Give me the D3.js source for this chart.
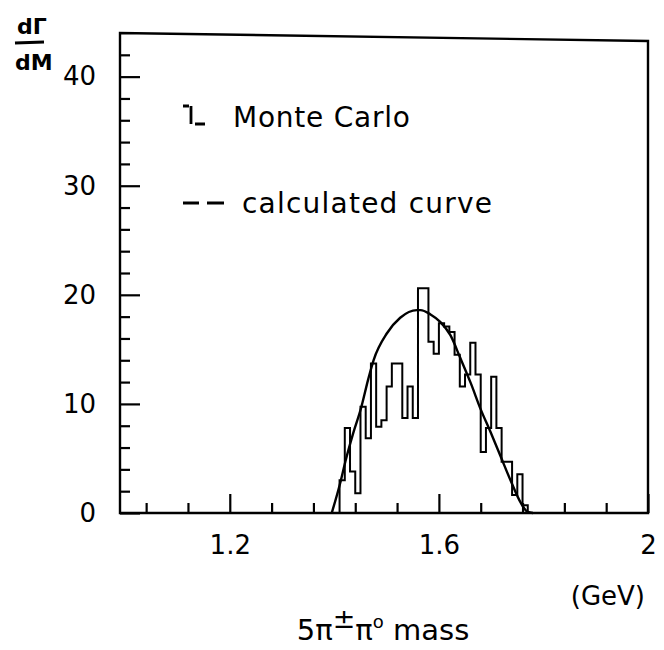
<!DOCTYPE html>
<html>
<head>
<meta charset="utf-8">
<script src="https://cdn.jsdelivr.net/npm/d3@7"></script>
<style>
  html, body { margin: 0; padding: 0; background: #fff; }
  svg { display: block; }
  text { font-family: "DejaVu Sans", sans-serif; fill: #000; }
</style>
</head>
<body>
<svg id="chart" width="664" height="650"></svg>
<script>
// Monte Carlo histogram: left edges of the 0.01 GeV mass bins and their contents
const binLeft = [1.41, 1.42, 1.43, 1.44, 1.45, 1.46, 1.47, 1.48, 1.49, 1.50,
                 1.51, 1.52, 1.53, 1.54, 1.55, 1.56, 1.57, 1.58, 1.59, 1.60,
                 1.61, 1.62, 1.63, 1.64, 1.65, 1.66, 1.67, 1.68, 1.69, 1.70,
                 1.71, 1.72, 1.73, 1.74, 1.75, 1.76];
const binWidth = 0.01;
const mcCounts = [3.0, 7.8, 3.8, 1.8, 9.75, 6.85, 13.7, 7.9, 8.5, 11.6,
                  13.7, 13.7, 8.7, 11.6, 8.7, 20.6, 20.6, 15.7, 14.6, 17.4,
                  17.1, 16.6, 14.5, 11.6, 12.7, 15.6, 12.7, 5.6, 7.8, 12.5,
                  7.8, 4.7, 4.7, 1.65, 3.55, 0.7];

// Calculated curve, sampled along the mass axis
const curveMass  = [1.395, 1.411, 1.421, 1.436, 1.451, 1.465, 1.475, 1.501, 1.526,
                    1.558, 1.565, 1.584, 1.603, 1.622, 1.641, 1.661, 1.680, 1.699,
                    1.718, 1.737, 1.757, 1.770, 1.780];
const curveValue = [0, 2.7, 4.7, 7.3, 9.6, 12.3, 14.0, 16.5, 17.9,
                    18.6, 18.6, 18.2, 17.5, 16.3, 14.2, 11.9, 9.5, 7.4,
                    5.2, 3.0, 0.9, 0.1, 0];

// Axis ticks
const xMajor = [1.2, 1.6, 2.0];
const xMinor = [1.04, 1.12, 1.28, 1.36, 1.44, 1.52, 1.68, 1.76, 1.84, 1.92];
const yMajor = [0, 10, 20, 30, 40];
const yMinor = [2, 4, 6, 8, 12, 14, 16, 18, 22, 24, 26, 28, 32, 34, 36, 38, 42];

const svg = d3.select("#chart");
const plotL = 120, plotR = 648, plotT = 33, plotB = 513;

const x = d3.scaleLinear().domain([0.99, 2.0]).range([plotL, plotR]);
const y = d3.scaleLinear().domain([0, 44]).range([plotB, plotT]);

// frame
svg.append("path")
  .attr("d", `M${plotL},${plotB} L${plotL},${plotT} L${plotR},${plotT + 8} L${plotR},${plotB} Z`)
  .attr("fill", "none").attr("stroke", "#000").attr("stroke-width", 2.4);

// y axis: minor and major inward ticks
const yMinorAxis = svg.append("g").attr("transform", `translate(${plotL},0)`)
  .call(d3.axisLeft(y).tickValues(yMinor).tickSize(-10).tickFormat(""));
const yMajorAxis = svg.append("g").attr("transform", `translate(${plotL},0)`)
  .call(d3.axisLeft(y).tickValues(yMajor).tickSize(-20).tickPadding(24).tickFormat(d3.format("d")));

// x axis
const xMinorAxis = svg.append("g").attr("transform", `translate(0,${plotB})`)
  .call(d3.axisBottom(x).tickValues(xMinor).tickSize(-10).tickFormat(""));
const xMajorAxis = svg.append("g").attr("transform", `translate(0,${plotB})`)
  .call(d3.axisBottom(x).tickValues(xMajor).tickSize(-19).tickPadding(23)
        .tickFormat(d => d === 2 ? "2" : d3.format(".1f")(d)));

[yMinorAxis, yMajorAxis, xMinorAxis, xMajorAxis].forEach(g => {
  g.select(".domain").remove();
  g.selectAll(".tick line").attr("stroke", "#000").attr("stroke-width", 2.2);
  g.selectAll(".tick text").attr("font-size", 26).attr("font-family", "DejaVu Sans");
});

// histogram outline
let hd = `M${x(binLeft[0])},${y(0)}`;
binLeft.forEach((b, i) => {
  hd += ` V${y(mcCounts[i])} H${x(b + binWidth)}`;
});
hd += ` V${y(0)}`;
svg.append("path").attr("d", hd)
  .attr("fill", "none").attr("stroke", "#000").attr("stroke-width", 2)
  .attr("stroke-linejoin", "miter");

// calculated curve
const line = d3.line().x(d => x(d[0])).y(d => y(d[1])).curve(d3.curveMonotoneX);
svg.append("path").datum(curveMass.map((m, i) => [m, curveValue[i]]))
  .attr("d", line).attr("fill", "none").attr("stroke", "#000").attr("stroke-width", 2.4);

// legend
const lg = svg.append("g").attr("stroke", "#000").attr("stroke-width", 2.8).attr("fill", "none");
lg.append("path").attr("d", "M183,106 H189 M191,106 V124 M195,124 H205");
lg.append("path").attr("d", "M183,203 H199 M207,203 H224");
svg.append("text").attr("x", 233).attr("y", 127).attr("font-size", 28)
  .attr("textLength", 177).attr("lengthAdjust", "spacing").text("Monte Carlo");
svg.append("text").attr("x", 242).attr("y", 213).attr("font-size", 28)
  .attr("textLength", 250).attr("lengthAdjust", "spacing").text("calculated curve");

// y-axis title dΓ/dM
svg.append("text").attr("x", 17).attr("y", 34).attr("font-size", 22).attr("font-weight", "bold").text("dΓ");
svg.append("line").attr("x1", 15).attr("x2", 44).attr("y1", 43).attr("y2", 42)
  .attr("stroke", "#000").attr("stroke-width", 3);
svg.append("text").attr("x", 15).attr("y", 70).attr("font-size", 22).attr("font-weight", "bold").text("dM");

// x-axis unit and title
svg.append("text").attr("x", 645).attr("y", 605).attr("font-size", 26)
  .attr("text-anchor", "end").text("(GeV)");
const xt = svg.append("text").attr("x", 383).attr("y", 640).attr("font-size", 29)
  .attr("text-anchor", "middle");
xt.append("tspan").text("5π");
xt.append("tspan").attr("font-size", 27).attr("dy", -12).text("±");
xt.append("tspan").attr("dy", 12).text("π");
xt.append("tspan").attr("font-size", 18).attr("dy", -12).text("o");
xt.append("tspan").attr("dy", 12).text(" mass");
</script>
</body>
</html>
